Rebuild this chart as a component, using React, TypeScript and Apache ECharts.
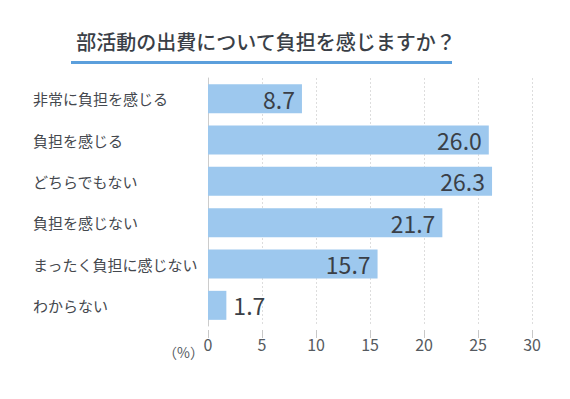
import React, { useEffect, useRef } from "react";
import * as echarts from "echarts";

const titleText = "部活動の出費について負担を感じますか？";
const categories = [
  "非常に負担を感じる",
  "負担を感じる",
  "どちらでもない",
  "負担を感じない",
  "まったく負担に感じない",
  "わからない",
];
const values = [8.7, 26.0, 26.3, 21.7, 15.7, 1.7];
const unitLabel = "（%）";

const FONT = "'Noto Sans CJK JP', 'Noto Sans', sans-serif";

export default function App() {
  const ref = useRef<HTMLDivElement>(null);
  useEffect(() => {
    if (!ref.current) return;
    const chart = echarts.init(ref.current, null, { renderer: "svg" });
    chart.setOption({
      animation: false,
      backgroundColor: "#ffffff",
      graphic: [
        {
          type: "text",
          x: 266,
          y: 41,
          style: {
            text: titleText,
            font: `500 20px ${FONT}`,
            fill: "#3a3f47",
            align: "center",
            verticalAlign: "middle",
          },
        },
        {
          type: "rect",
          shape: { x: 71, y: 61, width: 381, height: 3 },
          style: { fill: "#5b9fdc" },
        },
        {
          type: "text",
          x: 204,
          y: 352,
          style: {
            text: unitLabel,
            font: `14px ${FONT}`,
            fill: "#555a60",
            align: "right",
            verticalAlign: "middle",
          },
        },
      ],
      grid: { left: 208, right: 38, top: 78, bottom: 73, containLabel: false },
      xAxis: {
        type: "value",
        min: 0,
        max: 30,
        interval: 5,
        offset: 4,
        axisLine: { show: false },
        axisTick: { show: true, length: 8, lineStyle: { color: "#c8c8c8" } },
        axisLabel: {
          fontSize: 16,
          color: "#555a60",
          fontFamily: FONT,
          margin: 6,
        },
        splitLine: {
          show: true,
          lineStyle: { color: "#dddddd", type: [2, 2], width: 1 },
        },
      },
      yAxis: {
        type: "category",
        data: categories,
        inverse: true,
        offset: 5,
        axisLine: { show: true, lineStyle: { color: "#cccccc", width: 1 } },
        axisTick: { show: false },
        axisLabel: {
          align: "left",
          margin: 170,
          fontSize: 15,
          color: "#44484e",
          fontFamily: FONT,
        },
      },
      series: [
        {
          type: "bar",
          data: values.map((v) => ({
            value: v,
            label: {
              position: v < 5 ? "right" : "insideRight",
            },
          })),
          barWidth: 29,
          itemStyle: { color: "#9dc8ee" },
          label: {
            show: true,
            distance: 7,
            formatter: (p: any) => Number(p.value).toFixed(1),
            fontSize: 23,
            color: "#3a3f47",
            fontFamily: FONT,
          },
        },
      ],
    });
    return () => chart.dispose();
  }, []);
  return (
    <div
      ref={ref}
      style={{ position: "fixed", left: 0, top: 0, width: 570, height: 399 }}
    />
  );
}
